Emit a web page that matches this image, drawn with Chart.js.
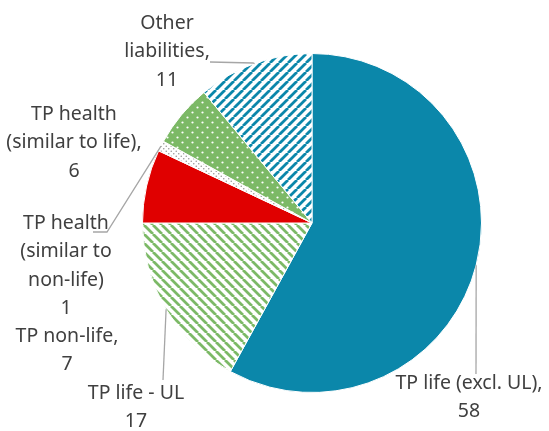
<!DOCTYPE html>
<html>
<head>
<meta charset="utf-8">
<script src="https://cdn.jsdelivr.net/npm/chart.js@4"></script>
<style>
  html, body { margin: 0; padding: 0; background: #fff; }
  #wrap { width: 549px; height: 431px; position: relative; }
</style>
</head>
<body>
<div id="wrap"><canvas id="pieChart"></canvas></div>
<script>
// ========================
// DATA
// ========================
const categories = [
  'TP life (excl. UL)',
  'TP life - UL',
  'TP non-life',
  'TP health (similar to non-life)',
  'TP health (similar to life)',
  'Other liabilities'
];
const values = [58, 17, 7, 1, 6, 11];

// wrapped text of the data labels, as printed on the chart
const labelLines = [
  ['TP life (excl. UL),'],
  ['TP life - UL'],
  ['TP non-life,'],
  ['TP health', '(similar to', 'non-life)'],
  ['TP health', '(similar to life),'],
  ['Other', 'liabilities,']
];

// ========================
// LABEL LAYOUT (centre of first line, optional leader elbow points)
// ========================
const labelPos = [
  { x: 469, y: 383, leader: [[476, 374]] },
  { x: 136, y: 393, leader: [[163, 380]] },
  { x: 67, y: 336, leader: null },
  { x: 66, y: 223, leader: [[107, 232], [93, 232]] },
  { x: 74, y: 114, leader: null },
  { x: 167, y: 23, leader: [[253, 63], [210, 62]] }
];
const LINE_H = 28.5;

// ========================
// PATTERNS
// ========================
const BLUE = '#0b87aa';
const GREEN = '#7cb966';
const RED = '#e00000';

function stripes(color, dir) {
  const s = 9;
  const c = document.createElement('canvas');
  c.width = s; c.height = s;
  const g = c.getContext('2d');
  g.fillStyle = '#fff';
  g.fillRect(0, 0, s, s);
  g.strokeStyle = color;
  g.lineWidth = 2.8;
  g.beginPath();
  if (dir === '/') {
    for (let k = -1; k <= 1; k++) {
      g.moveTo(k * s, s); g.lineTo(k * s + s, 0);
    }
  } else {
    for (let k = -1; k <= 1; k++) {
      g.moveTo(k * s, 0); g.lineTo(k * s + s, s);
    }
  }
  g.stroke();
  return g.createPattern(c, 'repeat');
}

function dots(bg, dot, size, r) {
  const c = document.createElement('canvas');
  c.width = size; c.height = size;
  const g = c.getContext('2d');
  g.fillStyle = bg;
  g.fillRect(0, 0, size, size);
  g.fillStyle = dot;
  [[size / 4, size / 4], [size * 3 / 4, size * 3 / 4]].forEach(([x, y]) => {
    g.beginPath(); g.arc(x, y, r, 0, Math.PI * 2); g.fill();
  });
  return g.createPattern(c, 'repeat');
}

const fills = [
  BLUE,
  stripes(GREEN, '\\'),
  RED,
  dots('#fff', '#9a9a9a', 5, 0.8),
  dots(GREEN, '#fff', 10, 1.1),
  stripes(BLUE, '/')
];

// ========================
// LABELS + LEADER LINES
// ========================
const labelPlugin = {
  id: 'outLabels',
  afterDatasetsDraw(chart) {
    const c = chart.ctx;
    const meta = chart.getDatasetMeta(0);
    c.save();
    meta.data.forEach((arc, i) => {
      const p = labelPos[i];
      if (p.leader) {
        const mid = (arc.startAngle + arc.endAngle) / 2;
        const sx = arc.x + Math.cos(mid) * arc.outerRadius;
        const sy = arc.y + Math.sin(mid) * arc.outerRadius;
        c.strokeStyle = '#a6a6a6';
        c.lineWidth = 1.3;
        c.beginPath();
        c.moveTo(sx, sy);
        p.leader.forEach(([x, y]) => c.lineTo(x, y));
        c.stroke();
      }
      const lines = labelLines[i].concat([String(values[i])]);
      c.fillStyle = '#404040';
      c.font = '19.5px "Noto Sans", "Open Sans", sans-serif';
      c.textAlign = 'center';
      c.textBaseline = 'middle';
      lines.forEach((t, k) => c.fillText(t, p.x, p.y + k * LINE_H));
    });
    c.restore();
  }
};

// ========================
// CHART
// ========================
const ctx = document.getElementById('pieChart');

new Chart(ctx, {
  type: 'pie',
  data: {
    labels: categories,
    datasets: [{
      data: values,
      backgroundColor: fills,
      borderColor: '#ffffff',
      borderWidth: 1
    }]
  },
  options: {
    responsive: true,
    maintainAspectRatio: false,
    animation: false,
    layout: {
      padding: { left: 142, right: 67, top: 53, bottom: 38 }
    },
    plugins: {
      legend: { display: false },
      tooltip: { enabled: false }
    }
  },
  plugins: [labelPlugin]
});
</script>
</body>
</html>
